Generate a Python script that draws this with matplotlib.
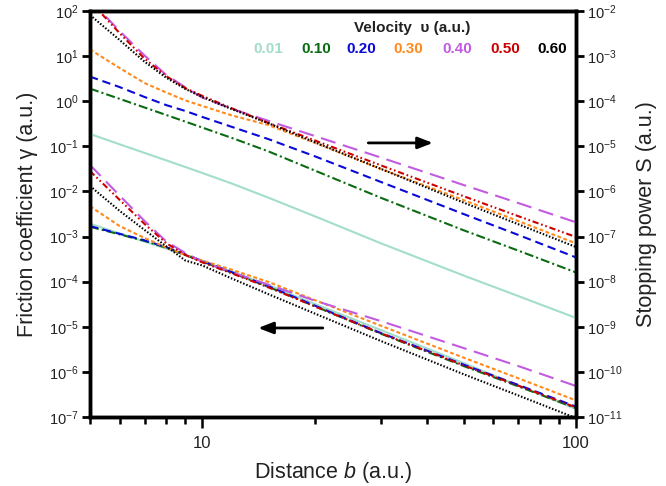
import matplotlib
matplotlib.use("Agg")
import matplotlib.pyplot as plt
from matplotlib.ticker import LogLocator, NullFormatter, FixedLocator, FixedFormatter

plt.rcParams["font.family"] = ["Liberation Sans", "DejaVu Sans"]
plt.rcParams["mathtext.fontset"] = "custom"
plt.rcParams["mathtext.rm"] = "Liberation Sans"
plt.rcParams["mathtext.it"] = "Liberation Sans:italic"
plt.rcParams["mathtext.bf"] = "Liberation Sans:bold"
plt.rcParams["lines.scale_dashes"] = False

# distance b (a.u.)
b = [5, 6, 7, 8, 9, 10, 12, 15, 20, 30, 50, 70, 100]

velocities = ["0.01", "0.10", "0.20", "0.30", "0.40", "0.50", "0.60"]

# stopping power S (a.u.), right axis
S_001 = [1.88e-5, 1.11e-5, 7.15e-6, 4.88e-6, 3.48e-6, 2.56e-6, 1.49e-6, 7.30e-7, 2.81e-7, 7.12e-8, 1.37e-8, 4.81e-9, 1.57e-9]
S_010 = [1.90e-4, 1.13e-4, 7.26e-5, 4.95e-5, 3.53e-5, 2.60e-5, 1.53e-5, 7.76e-6, 2.90e-6, 7.26e-7, 1.38e-7, 4.89e-8, 1.60e-8]
S_020 = [3.51e-4, 2.06e-4, 1.24e-4, 8.20e-5, 6.07e-5, 4.47e-5, 2.69e-5, 1.45e-5, 6.01e-6, 1.63e-6, 3.16e-7, 1.09e-7, 3.45e-8]
S_030 = [1.40e-3, 5.45e-4, 2.53e-4, 1.56e-4, 1.04e-4, 7.83e-5, 4.83e-5, 2.97e-5, 1.19e-5, 3.16e-6, 6.43e-7, 2.21e-7, 7.05e-8]
S_040 = [1.75e-2, 3.60e-3, 1.03e-3, 3.81e-4, 2.03e-4, 1.20e-4, 6.76e-5, 3.68e-5, 1.69e-5, 5.66e-6, 1.39e-6, 5.55e-7, 2.07e-7]
S_050 = [1.65e-2, 3.24e-3, 8.76e-4, 3.60e-4, 1.95e-4, 1.31e-4, 6.93e-5, 3.31e-5, 1.35e-5, 3.80e-6, 7.85e-7, 2.84e-7, 9.77e-8]
S_060 = [8.15e-3, 2.28e-3, 7.50e-4, 3.32e-4, 1.87e-4, 1.23e-4, 6.65e-5, 3.26e-5, 1.23e-5, 3.18e-6, 5.66e-7, 1.88e-7, 5.86e-8]

# friction coefficient gamma (a.u.), left axis
G_001 = [1.93e-3, 1.17e-3, 7.73e-4, 5.41e-4, 3.94e-4, 2.85e-4, 1.66e-4, 8.43e-5, 3.20e-5, 8.49e-6, 1.57e-6, 5.00e-7, 1.50e-7]
G_010 = [1.65e-3, 1.12e-3, 8.00e-4, 5.65e-4, 3.90e-4, 2.80e-4, 1.57e-4, 7.70e-5, 2.85e-5, 7.05e-6, 1.35e-6, 4.80e-7, 1.57e-7]
G_020 = [1.70e-3, 1.15e-3, 8.26e-4, 5.81e-4, 4.02e-4, 2.87e-4, 1.62e-4, 7.98e-5, 2.94e-5, 7.31e-6, 1.45e-6, 5.15e-7, 1.70e-7]
G_030 = [4.69e-3, 1.71e-3, 9.29e-4, 5.75e-4, 3.90e-4, 2.94e-4, 1.83e-4, 9.89e-5, 3.90e-5, 1.06e-5, 2.07e-6, 7.24e-7, 2.33e-7]
G_040 = [3.86e-2, 8.13e-3, 2.21e-3, 7.77e-4, 4.32e-4, 2.73e-4, 1.60e-4, 8.61e-5, 3.79e-5, 1.34e-5, 3.38e-6, 1.35e-6, 4.86e-7]
G_050 = [2.84e-2, 6.53e-3, 1.90e-3, 7.16e-4, 3.90e-4, 2.67e-4, 1.52e-4, 7.50e-5, 2.83e-5, 7.21e-6, 1.40e-6, 4.97e-7, 1.63e-7]
G_060 = [1.32e-2, 3.72e-3, 1.40e-3, 6.08e-4, 2.94e-4, 2.28e-4, 1.17e-4, 5.30e-5, 1.96e-5, 4.86e-6, 8.89e-7, 3.01e-7, 9.46e-8]

S_all = [S_001, S_010, S_020, S_030, S_040, S_050, S_060]
G_all = [G_001, G_010, G_020, G_030, G_040, G_050, G_060]

colors = ["#a3ddcb", "#0b6b12", "#0a0ad8", "#ff8a1c", "#c25be0", "#cc0000", "#000000"]
dashes = [
    None,
    (6.5, 2.2, 1.5, 2.2),
    (6, 3.5),
    (2.8, 1.8),
    (11, 5.5),
    (4.5, 2, 1.2, 2, 1.2, 2),
    (1.1, 1.3),
]

fig = plt.figure(figsize=(6.66, 4.86), dpi=100)
ax = fig.add_axes([0.1351, 0.1420, 0.7297, 0.8354])
ax2 = ax.twinx()

for s, g, c, d in zip(S_all, G_all, colors, dashes):
    ls = "-" if d is None else (0, d)
    ax2.plot(b, s, ls=ls, color=c, lw=1.5)
    ax.plot(b, g, ls=ls, color=c, lw=1.5)

for a in (ax, ax2):
    a.set_xscale("log")
    a.set_yscale("log")
ax.set_xlim(5, 100)
ax.set_ylim(1e-7, 1e2)
ax2.set_ylim(1e-11, 1e-2)

ax.yaxis.set_major_locator(LogLocator(base=10, numticks=20))
ax.yaxis.set_minor_locator(LogLocator(base=10, subs=[], numticks=20))
ax2.yaxis.set_major_locator(LogLocator(base=10, numticks=20))
ax2.yaxis.set_minor_locator(LogLocator(base=10, subs=[], numticks=20))

ax.xaxis.set_major_locator(FixedLocator([10, 100]))
ax.xaxis.set_major_formatter(FixedFormatter(["10", "100"]))
ax.xaxis.set_minor_locator(FixedLocator([5, 6, 7, 8, 9, 20, 30, 40, 50, 60, 70, 80, 90]))
ax.xaxis.set_minor_formatter(NullFormatter())

txt = "#222222"
ax.tick_params(axis="y", which="major", direction="out", length=6, width=2,
               labelsize=10.5, labelcolor=txt, pad=2)
ax2.tick_params(axis="y", which="major", direction="out", length=6, width=2,
                labelsize=10.5, labelcolor=txt, pad=2)
ax.tick_params(axis="x", which="major", direction="out", length=8, width=1.8,
               labelsize=12, labelcolor=txt, pad=6)
ax.tick_params(axis="x", which="minor", direction="out", length=5, width=1.8)

for a in (ax, ax2):
    for sp in a.spines.values():
        sp.set_linewidth(2.5)

ax.set_xlabel("Distance $b$ (a.u.)", fontsize=15.5, color=txt, labelpad=6)
ax.set_ylabel("Friction coefficient \u03b3 (a.u.)", fontsize=15.5, color=txt, labelpad=8)
ax2.set_ylabel("Stopping power S (a.u.)", fontsize=15.5, color=txt, labelpad=10)

# arrows pointing to the axis each group belongs to
ax.annotate("", xy=(41.4, 0.119), xytext=(27.8, 0.119),
            arrowprops=dict(arrowstyle="-|>,head_length=0.9,head_width=0.35",
                            color="black", lw=2, shrinkA=0, shrinkB=0))
ax.annotate("", xy=(14.1, 9.4e-6), xytext=(21.0, 9.4e-6),
            arrowprops=dict(arrowstyle="-|>,head_length=0.9,head_width=0.35",
                            color="black", lw=2, shrinkA=0, shrinkB=0))

# legend made of coloured labels
ax.text(0.663, 0.958, "Velocity  \u03c5 (a.u.)", transform=ax.transAxes,
        ha="center", va="center", fontsize=11, fontweight="bold", color=txt)
label_x = [0.366, 0.465, 0.558, 0.654, 0.755, 0.854, 0.951]
for lx, v, c in zip(label_x, velocities, colors):
    ax.text(lx, 0.907, v, transform=ax.transAxes, ha="center", va="center",
            fontsize=11, fontweight="bold", color=c)

fig.savefig("out.png", dpi=100)
